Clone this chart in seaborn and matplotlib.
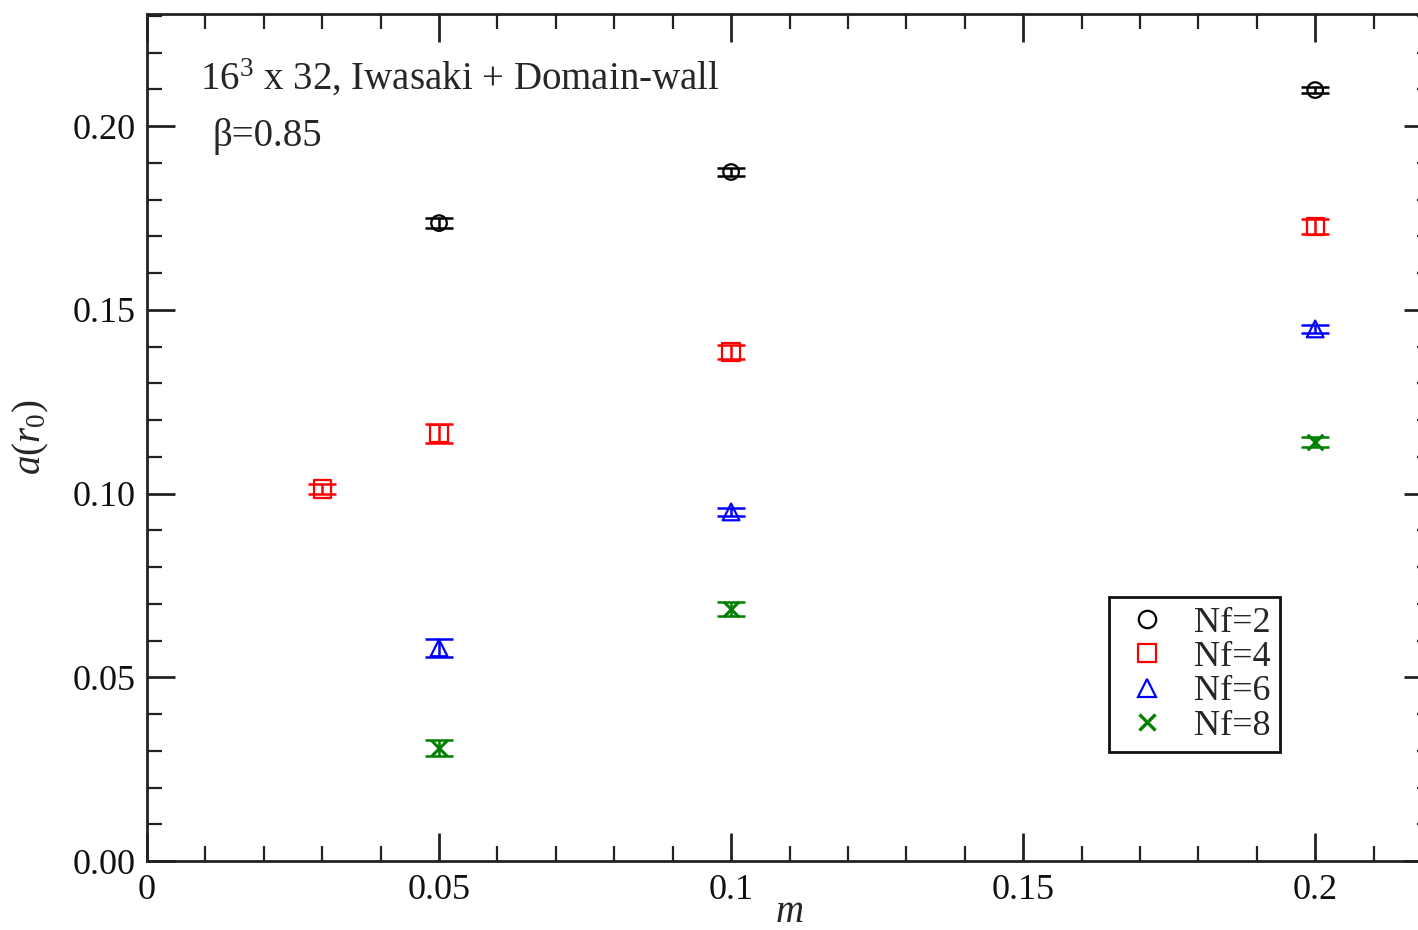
import matplotlib
matplotlib.use("Agg")
import matplotlib.pyplot as plt
from matplotlib.lines import Line2D
from matplotlib.ticker import MultipleLocator, FixedLocator
import seaborn as sns
import pandas as pd

# ---- data ----
m_nf2 = [0.05, 0.10, 0.20]
a_nf2 = [0.1736, 0.1875, 0.2098]
e_nf2 = [0.0014, 0.0011, 0.0008]

m_nf4 = [0.03, 0.05, 0.10, 0.20]
a_nf4 = [0.1012, 0.1163, 0.1385, 0.1727]
e_nf4 = [0.0014, 0.0025, 0.0018, 0.0020]

m_nf6 = [0.05, 0.10, 0.20]
a_nf6 = [0.0580, 0.0950, 0.1448]
e_nf6 = [0.0025, 0.0010, 0.0010]

m_nf8 = [0.05, 0.10, 0.20]
a_nf8 = [0.0307, 0.0685, 0.1140]
e_nf8 = [0.0022, 0.0019, 0.0014]

series_labels = ["Nf=2", "Nf=4", "Nf=6", "Nf=8"]
x_ticks = [0, 0.05, 0.1, 0.15, 0.2]
x_ticklabels = ["0", "0.05", "0.1", "0.15", "0.2"]
y_ticks = [0.00, 0.05, 0.10, 0.15, 0.20]
y_ticklabels = ["0.00", "0.05", "0.10", "0.15", "0.20"]

frames = []
for lab, m, a, e in zip(series_labels, [m_nf2, m_nf4, m_nf6, m_nf8],
                        [a_nf2, a_nf4, a_nf6, a_nf8], [e_nf2, e_nf4, e_nf6, e_nf8]):
    frames.append(pd.DataFrame({"m": m, "a": a, "err": e, "Nf": lab}))
df = pd.concat(frames, ignore_index=True)

# ---- style ----
sns.set_style("ticks")
plt.rcParams["font.family"] = ["Liberation Serif", "DejaVu Serif"]
plt.rcParams["mathtext.fontset"] = "custom"
plt.rcParams["mathtext.rm"] = "Liberation Serif"
plt.rcParams["mathtext.it"] = "Liberation Serif:italic"
plt.rcParams["mathtext.bf"] = "Liberation Serif:bold"

colors = {"Nf=2": "#000000", "Nf=4": "#ff0000", "Nf=6": "#0000ff", "Nf=8": "#008000"}
markers = {"Nf=2": "o", "Nf=4": "s", "Nf=6": "^", "Nf=8": "x"}
sizes = {"Nf=2": 125, "Nf=4": 155, "Nf=6": 145, "Nf=8": 125}

W, H = 1418, 930
fig = plt.figure(figsize=(W / 100, H / 100), dpi=100)
left, right, top, bottom = 147, 1432, 14, 861
ax = fig.add_axes([left / W, (H - bottom) / H, (right - left) / W, (bottom - top) / H])

for lab in series_labels:
    sub = df[df["Nf"] == lab]
    c = colors[lab]
    if markers[lab] == "x":
        sns.scatterplot(data=sub, x="m", y="a", marker="x", s=sizes[lab],
                        color=c, linewidth=2.2, ax=ax, legend=False, zorder=3)
    else:
        sns.scatterplot(data=sub, x="m", y="a", marker=markers[lab], s=sizes[lab],
                        facecolors="none", edgecolor=c, color=c, linewidth=1.6,
                        ax=ax, legend=False, zorder=3)
    ax.errorbar(sub["m"], sub["a"], yerr=sub["err"], fmt="none", ecolor=c,
                elinewidth=1.8, capsize=10, capthick=1.8, zorder=4)

ax.set_xlim(0, 0.22)
ax.set_ylim(0, 0.2305)
ax.xaxis.set_major_locator(FixedLocator(x_ticks))
ax.set_xticklabels(x_ticklabels)
ax.yaxis.set_major_locator(FixedLocator(y_ticks))
ax.set_yticklabels(y_ticklabels)
ax.xaxis.set_minor_locator(MultipleLocator(0.01))
ax.yaxis.set_minor_locator(MultipleLocator(0.01))
ax.tick_params(which="both", direction="in", top=True, right=True, colors="#222222",
               labelcolor="#111111")
ax.tick_params(which="major", length=20, width=2.0, labelsize=26)
ax.tick_params(axis="y", which="major", pad=8)
ax.tick_params(axis="x", which="major", pad=9)
ax.tick_params(which="minor", length=11, width=1.6)
for s in ax.spines.values():
    s.set_linewidth(2.0)
    s.set_color("#222222")

ax.set_xlabel("$m$", fontsize=28, labelpad=-9)
ax.set_ylabel("$a(r_0)$", fontsize=28, labelpad=16)

ax.text(0.041, 0.924, "16$^{3}$ x 32, Iwasaki + Domain-wall", transform=ax.transAxes,
        fontsize=28, va="center", ha="left")
ax.text(0.051, 0.855, "β=0.85", transform=ax.transAxes,
        fontsize=28, va="center", ha="left")

handles = []
for lab in series_labels:
    c = colors[lab]
    if markers[lab] == "x":
        h = Line2D([], [], marker="x", ls="none", color=c, ms=11, mew=2.4)
    else:
        h = Line2D([], [], marker=markers[lab], ls="none", mfc="none", mec=c, ms=12.5, mew=1.6)
    handles.append(h)
leg = ax.legend(handles, series_labels, loc="lower left", bbox_to_anchor=(0.749, 0.129),
                borderaxespad=0, fontsize=26, frameon=True, fancybox=False,
                edgecolor="#111111", framealpha=1, labelspacing=0.03,
                handlelength=1.6, handletextpad=0.5, borderpad=0.25)
leg.get_frame().set_linewidth(2.0)

fig.savefig("out.png", dpi=100)
